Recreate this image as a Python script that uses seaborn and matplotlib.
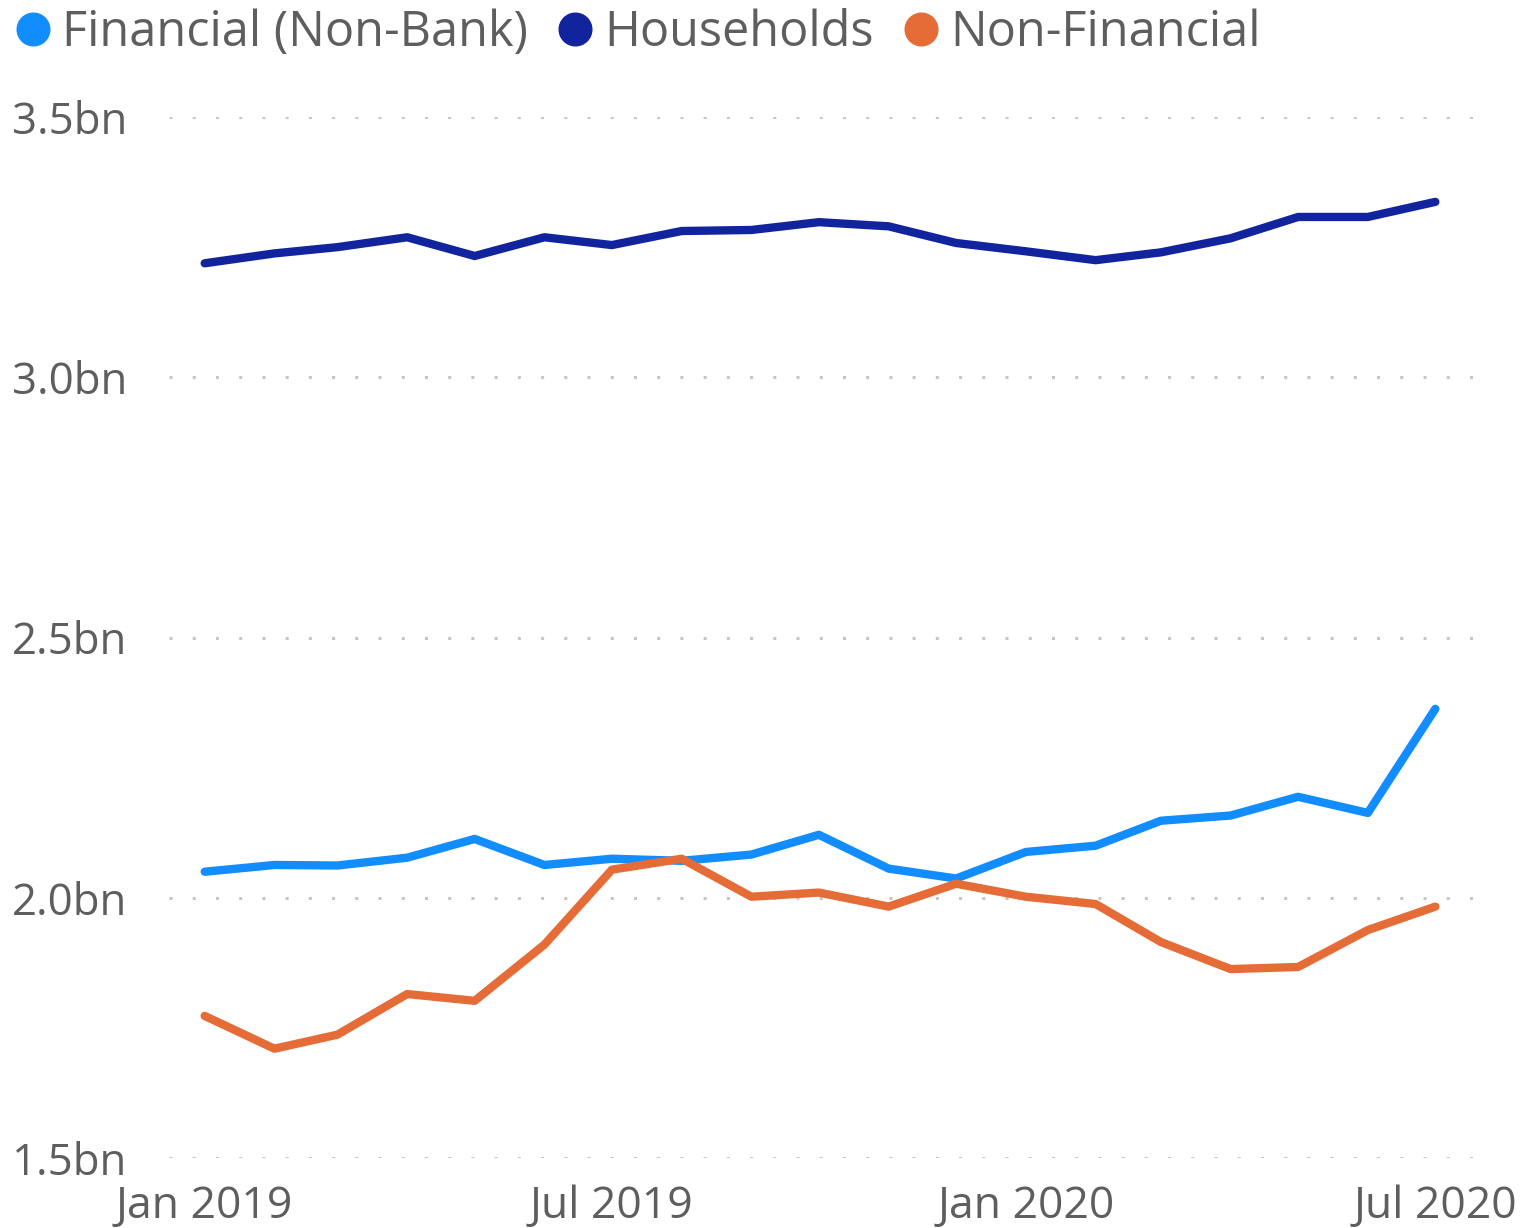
import matplotlib
matplotlib.use("Agg")
import matplotlib.pyplot as plt
from matplotlib.lines import Line2D
import pandas as pd
import seaborn as sns

# monthly values, in billions
months = pd.date_range("2019-01-01", "2020-07-01", freq="MS")

financial = [2.050, 2.063, 2.062, 2.077, 2.113, 2.063, 2.075, 2.071, 2.083, 2.121,
             2.056, 2.037, 2.088, 2.100, 2.148, 2.158, 2.194, 2.163, 2.363]
households = [3.219, 3.238, 3.250, 3.269, 3.233, 3.269, 3.254, 3.281, 3.283, 3.298,
              3.290, 3.258, 3.242, 3.225, 3.240, 3.267, 3.308, 3.308, 3.337]
non_financial = [1.773, 1.710, 1.737, 1.815, 1.802, 1.910, 2.054, 2.075, 2.002, 2.010,
                 1.983, 2.027, 2.002, 1.988, 1.915, 1.863, 1.867, 1.938, 1.983]

series_names = ["Financial (Non-Bank)", "Households", "Non-Financial"]
colors = {"Financial (Non-Bank)": "#118DFF",
          "Households": "#12239E",
          "Non-Financial": "#E66C37"}

y_ticks = [1.5, 2.0, 2.5, 3.0, 3.5]
x_ticks = ["2019-01-01", "2019-07-01", "2020-01-01", "2020-07-01"]
x_labels = ["Jan 2019", "Jul 2019", "Jan 2020", "Jul 2020"]

df = pd.DataFrame({
    "month": list(months) * 3,
    "value": financial + households + non_financial,
    "series": [s for s in series_names for _ in months],
})

sns.set_style("white")
plt.rcParams["font.family"] = ["Open Sans", "DejaVu Sans"]
text_color = "#605E5C"

fig = plt.figure(figsize=(15.39, 12.28), dpi=100)
ax = fig.add_axes([0.1099, 0.057, 0.8492, 0.8477])

sns.lineplot(data=df, x="month", y="value", hue="series", palette=colors,
             hue_order=series_names, linewidth=6.0, legend=False, ax=ax,
             solid_capstyle="round", solid_joinstyle="round")

ax.set_ylim(1.5, 3.5)
ax.set_xlim(pd.Timestamp("2019-01-01") - pd.Timedelta(days=15.8),
            pd.Timestamp("2020-07-01") + pd.Timedelta(days=18.1))

ax.set_yticks(y_ticks)
ax.set_yticklabels([f"{v:.1f}bn" for v in y_ticks])
ax.set_xticks([pd.Timestamp(t) for t in x_ticks])
ax.set_xticklabels(x_labels)

ax.tick_params(axis="y", length=0, pad=30, labelsize=31.5, labelcolor=text_color)
ax.tick_params(axis="x", length=0, pad=19, labelsize=32, labelcolor=text_color)

ax.grid(axis="y", color="#C8C6C4", linewidth=2.2, linestyle=(0, (1, 6.6)))
ax.grid(axis="x", visible=False)
ax.set_xlabel("")
ax.set_ylabel("")
for sp in ax.spines.values():
    sp.set_visible(False)

handles = [Line2D([], [], linestyle="none", marker="o", markersize=23.5,
                  markerfacecolor=colors[s], markeredgecolor=colors[s])
           for s in series_names]
fig.legend(handles, series_names, loc="upper left", bbox_to_anchor=(0.0118, 0.993),
           ncol=3, frameon=False, fontsize=35, labelcolor=text_color,
           handlelength=0.6, handletextpad=0.31, columnspacing=0.66,
           borderaxespad=0, borderpad=0.0)

fig.savefig("out.png", dpi=100)
